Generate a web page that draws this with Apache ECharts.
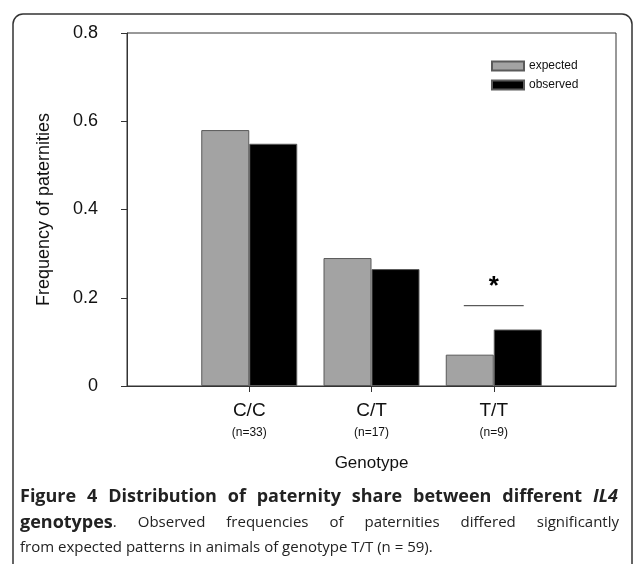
<!DOCTYPE html>
<html>
<head>
<meta charset="utf-8">
<script src="https://cdn.jsdelivr.net/npm/echarts@6/dist/echarts.min.js"></script>
<style>
  html, body { margin: 0; padding: 0; background: #fff; }
  #chart { width: 635px; height: 564px; }
</style>
</head>
<body>
<div id="chart"></div>
<script>
// genotype categories and number of animals
const categories = ["C/C", "C/T", "T/T"];
const counts = [33, 17, 9];
// frequency of paternities
const expected = [0.58, 0.29, 0.071];
const observed = [0.549, 0.265, 0.128];
// y axis ticks
const yTicks = [0, 0.2, 0.4, 0.6, 0.8];
// significance bar over T/T
const sigCategory = ["T/T"];
const sigLevel = [0.182];

const chartFont = "Liberation Sans";
const capFont = "'Open Sans'";
const chart = echarts.init(document.getElementById("chart"));

// pad with an empty slot on each side, the axis runs 0..4
const xData = [""].concat(categories, [""]);
const pad = (arr) => ["-"].concat(arr, ["-"]);

// caption: lay words out over a fixed width (justified like the journal page)
const ctx = document.createElement("canvas").getContext("2d");
const fonts = {
  b: "bold 18px " + capFont,
  bi: "italic bold 18px " + capFont,
  n: "15px " + capFont,
};
function measure(text, key) {
  ctx.font = fonts[key];
  return ctx.measureText(text).width;
}
// each word is a list of [text, fontKey] pieces
function captionLine(words, x, y, width, justify) {
  const widths = words.map((w) => w.reduce((s, p) => s + measure(p[0], p[1]), 0));
  const total = widths.reduce((a, b) => a + b, 0);
  const gap = justify ? (width - total) / (words.length - 1) : measure(" ", "n");
  const out = [];
  let cx = x;
  words.forEach((w, i) => {
    let px = cx;
    w.forEach((p) => {
      out.push({
        type: "text",
        x: px,
        y: y,
        silent: true,
        style: { text: p[0], font: fonts[p[1]], fill: "#222", verticalAlign: "middle" },
      });
      px += measure(p[0], p[1]);
    });
    cx += widths[i] + gap;
  });
  return out;
}
const words = (s, key) => s.split(" ").map((t) => [[t, key]]);

const line1 = words("Figure 4 Distribution of paternity share between different", "b").concat([[["IL4", "bi"]]]);
const line2 = [[["genotypes", "b"], [".", "n"]]].concat(
  words("Observed frequencies of paternities differed significantly", "n")
);
const line3 = words("from expected patterns in animals of genotype T/T (n = 59).", "n");

const caption = []
  .concat(captionLine(line1, 20, 497, 598, true))
  .concat(captionLine(line2, 20, 523, 599, true))
  .concat(captionLine(line3, 20, 548, 0, false));

const option = {
  backgroundColor: "#fff",
  animation: false,
  textStyle: { fontFamily: chartFont },
  grid: {
    left: 127,
    right: 19,
    top: 33,
    bottom: 178,
    show: true,
    borderColor: "#333",
    borderWidth: 1,
  },
  legend: {
    data: ["expected", "observed"],
    orient: "vertical",
    left: 486,
    top: 55,
    icon: "rect",
    itemWidth: 32,
    itemHeight: 9,
    itemGap: 7,
    textStyle: { fontSize: 12, color: "#111", fontFamily: chartFont },
  },
  xAxis: {
    type: "category",
    data: xData,
    boundaryGap: false,
    name: "Genotype",
    nameLocation: "middle",
    nameGap: 69,
    nameTextStyle: { fontSize: 17, color: "#111", fontFamily: chartFont },
    axisLine: { lineStyle: { color: "#333", width: 1 } },
    axisTick: {
      length: 6,
      interval: (i) => i > 0 && i < xData.length - 1,
      lineStyle: { color: "#333" },
    },
    axisLabel: {
      interval: 0,
      margin: 14,
      formatter: (v, i) => {
        if (!v) return "";
        return "{a|" + v + "}\n{b|(n=" + counts[i - 1] + ")}";
      },
      rich: {
        a: { fontSize: 19, lineHeight: 22, color: "#111", fontFamily: chartFont },
        b: { fontSize: 12, lineHeight: 22, color: "#111", fontFamily: chartFont },
      },
    },
    splitLine: { show: false },
  },
  yAxis: {
    type: "value",
    min: yTicks[0],
    max: yTicks[yTicks.length - 1],
    interval: yTicks[1] - yTicks[0],
    name: "Frequency of paternities",
    nameLocation: "middle",
    nameRotate: 90,
    nameGap: 74,
    nameTextStyle: { fontSize: 18, color: "#111", fontFamily: chartFont },
    axisLine: { show: true, lineStyle: { color: "#333", width: 1 } },
    axisTick: { show: true, length: 6, lineStyle: { color: "#333" } },
    axisLabel: {
      margin: 29,
      fontSize: 18,
      color: "#111",
      formatter: (v) => (v === 0 ? "0" : v.toFixed(1)),
    },
    splitLine: { show: false },
  },
  series: [
    {
      name: "expected",
      type: "bar",
      data: pad(expected),
      barWidth: 48,
      barGap: "0%",
      itemStyle: { color: "#a3a3a3", borderColor: "#5a5a5a", borderWidth: 1 },
    },
    {
      name: "observed",
      type: "bar",
      data: pad(observed),
      barWidth: 48,
      barGap: "0%",
      itemStyle: { color: "#000", borderColor: "#5a5a5a", borderWidth: 1 },
    },
    {
      name: "sig",
      type: "custom",
      data: sigCategory.map((c, i) => [c, sigLevel[i]]),
      renderItem: (params, api) => {
        const p = api.coord([api.value(0), api.value(1)]);
        const half = api.size([1, 0])[0] * 0.245;
        return {
          type: "group",
          children: [
            {
              type: "line",
              shape: { x1: p[0] - half, y1: p[1], x2: p[0] + half, y2: p[1] },
              style: { stroke: "#333", lineWidth: 1 },
            },
            {
              type: "text",
              style: {
                text: "*",
                x: p[0],
                y: p[1] - 19,
                align: "center",
                verticalAlign: "middle",
                font: "bold 26px Liberation Sans",
                fill: "#000",
              },
            },
          ],
        };
      },
    },
  ],
  graphic: [
    {
      type: "rect",
      shape: { x: 13, y: 14, width: 619, height: 620, r: 10 },
      style: { fill: null, stroke: "#333", lineWidth: 1.5 },
      silent: true,
    },
  ].concat(caption),
};

chart.setOption(option);
</script>
</body>
</html>
